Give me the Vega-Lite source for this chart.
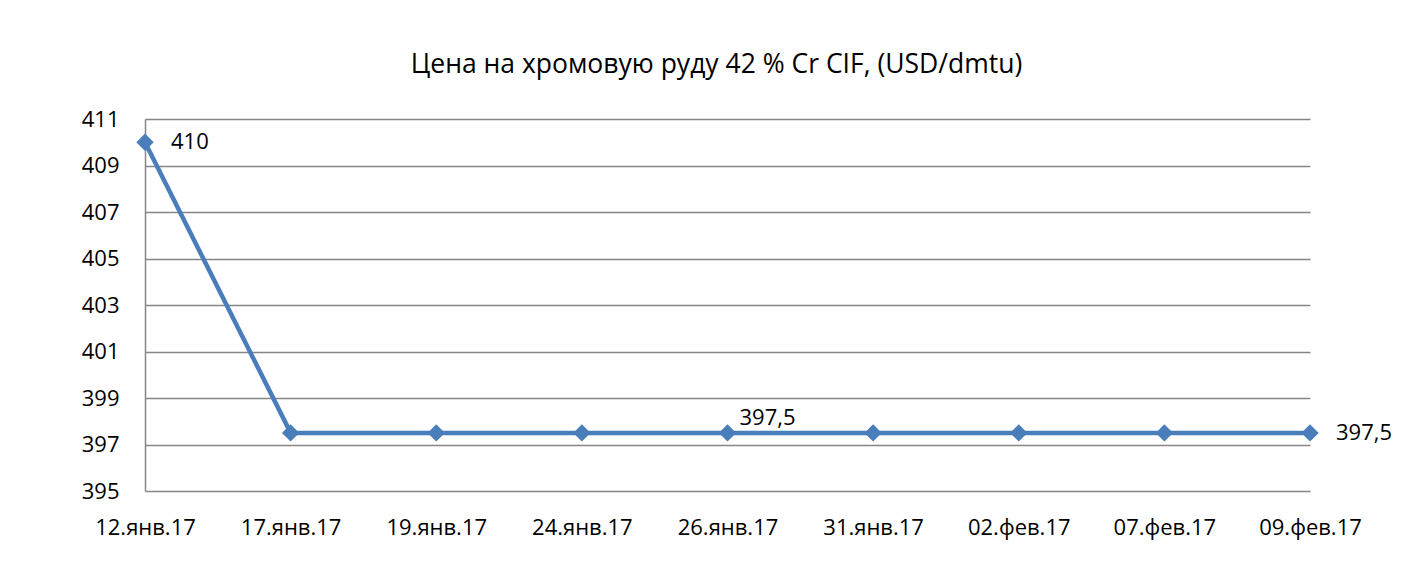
{
  "$schema": "https://vega.github.io/schema/vega-lite/v6.json",
  "autosize": "none",
  "width": 1165,
  "height": 372,
  "padding": {"left": 145, "top": 119, "right": 94, "bottom": 80},
  "background": "white",
  "config": {
    "font": "Open Sans",
    "view": {"stroke": null},
    "locale": {"number": {"decimal": ",", "thousands": " ", "grouping": [3], "currency": ["", ""]}}
  },
  "title": {
    "text": "Цена на хромовую руду 42 % Cr CIF, (USD/dmtu)",
    "font": "Open Sans",
    "fontSize": 26.5,
    "fontWeight": "normal",
    "color": "#000000",
    "anchor": "middle",
    "frame": "group",
    "dx": -11,
    "offset": 30
  },
  "data": {
    "values": [
      {"date": "12.янв.17", "price": 410},
      {"date": "17.янв.17", "price": 397.5},
      {"date": "19.янв.17", "price": 397.5},
      {"date": "24.янв.17", "price": 397.5},
      {"date": "26.янв.17", "price": 397.5},
      {"date": "31.янв.17", "price": 397.5},
      {"date": "02.фев.17", "price": 397.5},
      {"date": "07.фев.17", "price": 397.5},
      {"date": "09.фев.17", "price": 397.5}
    ]
  },
  "encoding": {
    "x": {
      "field": "date",
      "type": "ordinal",
      "sort": null,
      "scale": {"type": "point", "padding": 0},
      "axis": {
        "title": null,
        "labelAngle": 0,
        "labelFont": "Open Sans",
        "labelFontSize": 22,
        "labelColor": "#000000",
        "labelPadding": 26,
        "domain": false,
        "ticks": false,
        "grid": false
      }
    },
    "y": {
      "field": "price",
      "type": "quantitative",
      "scale": {"domain": [395, 411], "nice": false, "zero": false},
      "axis": {
        "title": null,
        "values": [395, 397, 399, 401, 403, 405, 407, 409, 411],
        "format": "d",
        "labelFont": "Open Sans",
        "labelFontSize": 22,
        "labelColor": "#000000",
        "labelPadding": 26,
        "ticks": false,
        "domain": true,
        "domainColor": "#868686",
        "domainWidth": 1.5,
        "grid": true,
        "gridColor": "#868686",
        "gridWidth": 1.5,
        "gridOpacity": 1
      }
    }
  },
  "layer": [
    {
      "mark": {"type": "line", "color": "#4A7EBB", "strokeWidth": 4.5}
    },
    {
      "mark": {"type": "point", "shape": "diamond", "filled": true, "color": "#4A7EBB", "opacity": 1, "size": 300}
    },
    {
      "transform": [{"filter": "datum.date === '12.янв.17' || datum.date === '09.фев.17'"}],
      "mark": {"type": "text", "align": "left", "baseline": "middle", "dx": 26, "fontSize": 22, "font": "Open Sans", "color": "#000000"},
      "encoding": {"text": {"field": "price", "type": "quantitative", "format": ".1~f"}}
    },
    {
      "transform": [{"filter": "datum.date === '26.янв.17'"}],
      "mark": {"type": "text", "align": "left", "baseline": "middle", "dx": 12, "dy": -15, "fontSize": 22, "font": "Open Sans", "color": "#000000"},
      "encoding": {"text": {"field": "price", "type": "quantitative", "format": ".1~f"}}
    }
  ]
}
